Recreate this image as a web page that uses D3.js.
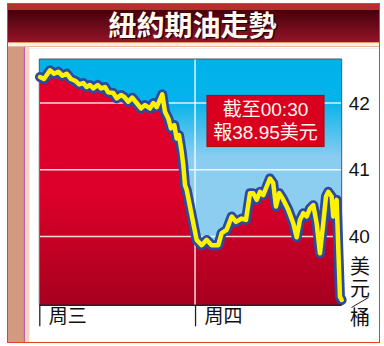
<!DOCTYPE html>
<html>
<head>
<meta charset="utf-8">
<script src="https://cdn.jsdelivr.net/npm/d3@7"></script>
<style>
  body { margin: 0; background: #fff; }
  svg { display: block; }
  text { font-family: "Liberation Sans", "Noto Sans CJK TC", sans-serif; }
</style>
</head>
<body>
<div id="chart"></div>
<script>
// hours since Wednesday start, and NY crude futures price
var hours = [0.1,0.72,1.65,2.27,2.93,3.54,4.22,4.88,5.61,6.16,
  6.78,7.3,7.81,8.32,9.0,9.51,10.12,10.63,11.4,11.93,
  12.59,13.1,13.71,14.33,15.01,15.67,16.29,17.06,17.57,18.09,
  18.95,19.37,19.88,20.29,20.8,21.17,21.53,21.94,22.19,22.45,
  22.71,23.22,23.73,24.25,25.02,25.79,26.56,27.58,28.1,28.87,
  29.65,30.31,31.19,31.85,32.47,32.97,33.5,34.01,34.51,35.04,
  35.55,36.05,36.47,36.98,37.5,38.37,39.14,39.66,40.17,40.68,
  41.2,41.71,42.22,42.74,43.25,43.76,44.18,44.53,45.05,45.3,
  45.82,46.33,46.6];
var prices = [42.39,42.36,42.49,42.44,42.47,42.41,42.44,42.36,42.33,42.28,
  42.30,42.24,42.27,42.22,42.27,42.22,42.24,42.16,42.15,42.07,
  42.12,42.09,42.02,42.08,42.00,41.92,41.97,41.92,42.00,41.94,
  42.13,41.87,41.77,41.62,41.67,41.47,41.52,41.27,41.07,40.77,
  40.70,40.45,40.20,39.95,39.87,39.95,39.87,39.87,40.05,40.10,
  40.30,40.22,40.27,40.25,40.65,40.65,40.55,40.67,40.62,40.75,
  40.87,40.80,40.45,40.65,40.57,40.40,40.20,39.99,40.25,40.35,
  40.30,40.42,40.47,40.20,39.75,40.20,40.60,40.67,40.60,40.30,
  40.55,39.10,39.05];
var dayTicks = [0, 24];
var dayLabels = ["周三", "周四"];
var priceTicks = [40, 41, 42];
var title = "紐約期油走勢";
var noteLines = ["截至00:30", "報38.95美元"];
var unitChars = ["美", "元", "桶"];

var data = hours.map(function(h, i) { return {h: h, p: prices[i]}; });

var W = 384, H = 346;
var plot = {left: 39.3, right: 341.7, top: 59, bottom: 305.3};

var svg = d3.select("#chart").append("svg")
  .attr("width", W)
  .attr("height", H);

var defs = svg.append("defs");

var tg = defs.append("linearGradient").attr("id", "titleGrad")
  .attr("x1", 0).attr("y1", 0).attr("x2", 0).attr("y2", 1);
tg.append("stop").attr("offset", "0%").attr("stop-color", "#45000c");
tg.append("stop").attr("offset", "100%").attr("stop-color", "#941428");

var bg = defs.append("linearGradient").attr("id", "skyGrad")
  .attr("gradientUnits", "userSpaceOnUse")
  .attr("x1", 0).attr("y1", plot.top).attr("x2", 0).attr("y2", plot.bottom);
bg.append("stop").attr("offset", "0%").attr("stop-color", "#00b2ea");
bg.append("stop").attr("offset", "17%").attr("stop-color", "#04b3ea");
bg.append("stop").attr("offset", "40%").attr("stop-color", "#8bcdf0");
bg.append("stop").attr("offset", "100%").attr("stop-color", "#8fcfef");

var rg = defs.append("linearGradient").attr("id", "redGrad")
  .attr("gradientUnits", "userSpaceOnUse")
  .attr("x1", 0).attr("y1", plot.top).attr("x2", 0).attr("y2", plot.bottom);
rg.append("stop").attr("offset", "0%").attr("stop-color", "#e2002b");
rg.append("stop").attr("offset", "55%").attr("stop-color", "#dc002a");
rg.append("stop").attr("offset", "100%").attr("stop-color", "#a6001f");

defs.append("clipPath").attr("id", "plotClip")
  .append("rect")
  .attr("x", plot.left).attr("y", plot.top)
  .attr("width", plot.right - plot.left)
  .attr("height", plot.bottom - plot.top);

// frame
svg.append("rect")
  .attr("x", 7.5).attr("y", 3.5).attr("width", 372).attr("height", 339)
  .attr("fill", "#fff").attr("stroke", "#e2401e").attr("stroke-width", 1);
svg.append("rect")
  .attr("x", 8).attr("y", 4).attr("width", 371).attr("height", 6)
  .attr("fill", "#b3302c");
svg.append("rect")
  .attr("x", 8).attr("y", 10).attr("width", 371).attr("height", 32)
  .attr("fill", "url(#titleGrad)");
svg.append("rect")
  .attr("x", 8).attr("y", 42).attr("width", 371).attr("height", 4)
  .attr("fill", "#fcf0e4");
svg.append("line")
  .attr("x1", 8).attr("x2", 379).attr("y1", 42.5).attr("y2", 42.5)
  .attr("stroke", "#e89a66");
svg.append("line")
  .attr("x1", 8).attr("x2", 379).attr("y1", 46.5).attr("y2", 46.5)
  .attr("stroke", "#e8b8a0");
svg.append("line")
  .attr("x1", 29).attr("x2", 379).attr("y1", 48.5).attr("y2", 48.5)
  .attr("stroke", "#eeeeee");

// left band
svg.append("rect").attr("x", 8).attr("y", 47).attr("width", 15.3).attr("height", 295)
  .attr("fill", "#d39a82");
svg.append("rect").attr("x", 23.3).attr("y", 47).attr("width", 1.7).attr("height", 295)
  .attr("fill", "#c45e9e");
svg.append("rect").attr("x", 25).attr("y", 47).attr("width", 4.3).attr("height", 295)
  .attr("fill", "#f3d3c4");

// title
svg.append("text")
  .attr("x", 194).attr("y", 37)
  .attr("text-anchor", "middle")
  .attr("font-family", "Noto Sans CJK TC")
  .attr("font-size", 28).attr("font-weight", "bold")
  .attr("fill", "#2a0006")
  .text(title);
svg.append("text")
  .attr("x", 192.5).attr("y", 35.5)
  .attr("text-anchor", "middle")
  .attr("font-family", "Noto Sans CJK TC")
  .attr("font-size", 28).attr("font-weight", "bold")
  .attr("fill", "#fffaf0")
  .text(title);

var x = d3.scaleLinear().domain([0, 46.6]).range([plot.left, plot.right]);
var y = d3.scaleLinear().domain([38.97, 42.66]).range([plot.bottom, plot.top]);

// plot background
svg.append("rect")
  .attr("x", plot.left).attr("y", plot.top)
  .attr("width", plot.right - plot.left).attr("height", plot.bottom - plot.top)
  .attr("fill", "url(#skyGrad)");

var area = d3.area()
  .x(function(d) { return x(d.h); })
  .y0(plot.bottom)
  .y1(function(d) { return y(d.p); });

svg.append("path")
  .datum(data)
  .attr("d", area)
  .attr("clip-path", "url(#plotClip)")
  .attr("fill", "url(#redGrad)");

// grid
svg.append("g")
  .selectAll("line")
  .data(priceTicks)
  .enter().append("line")
    .attr("x1", plot.left).attr("x2", plot.right)
    .attr("y1", function(d) { return y(d); })
    .attr("y2", function(d) { return y(d); })
    .attr("stroke", "#fff").attr("stroke-opacity", 0.85)
    .attr("stroke-width", 1.5);
svg.append("line")
  .attr("x1", x(24)).attr("x2", x(24))
  .attr("y1", plot.top).attr("y2", plot.bottom)
  .attr("stroke", "#fff").attr("stroke-opacity", 0.85)
  .attr("stroke-width", 1.5);

// plot border
svg.append("path")
  .attr("d", "M" + plot.left + "," + plot.bottom + "V" + plot.top + "H" + plot.right + "V" + plot.bottom)
  .attr("fill", "none").attr("stroke", "#555").attr("stroke-width", 1);

// price line
var line = d3.line()
  .x(function(d) { return x(d.h); })
  .y(function(d) { return y(d.p); });

svg.append("path")
  .datum(data)
  .attr("d", line)
  .attr("fill", "none")
  .attr("stroke", "#2a4ba2")
  .attr("stroke-width", 10)
  .attr("stroke-linejoin", "round")
  .attr("stroke-linecap", "round");
svg.append("path")
  .datum(data)
  .attr("d", line)
  .attr("fill", "none")
  .attr("stroke", "#fff200")
  .attr("stroke-width", 4.5)
  .attr("stroke-linejoin", "round")
  .attr("stroke-linecap", "round");

// x axis
var xAxis = svg.append("g")
  .attr("transform", "translate(0," + plot.bottom + ")")
  .call(d3.axisBottom(x).tickValues(dayTicks).tickSize(21)
    .tickFormat(function(d, i) { return dayLabels[i]; }));
xAxis.select(".domain").attr("stroke", "#222").attr("stroke-width", 1.5)
  .attr("d", "M" + plot.left + ",0H" + plot.right);
xAxis.selectAll(".tick line").attr("stroke", "#222").attr("stroke-width", 1.3);
xAxis.selectAll(".tick text")
  .attr("font-family", "Noto Sans CJK TC")
  .attr("font-size", 19).attr("fill", "#111")
  .attr("text-anchor", "start")
  .attr("x", 9).attr("y", 3).attr("dy", "0.8em");

// y axis on right
var yAxis = svg.append("g")
  .attr("transform", "translate(" + plot.right + ",0)")
  .call(d3.axisRight(y).tickValues(priceTicks).tickSize(0).tickPadding(7)
    .tickFormat(d3.format("d")));
yAxis.select(".domain").remove();
yAxis.selectAll(".tick text")
  .attr("font-size", 19).attr("fill", "#111");

// unit label
svg.append("text").attr("x", 360).attr("y", 274)
  .attr("text-anchor", "middle").attr("font-family", "Noto Sans CJK TC")
  .attr("font-size", 20).attr("fill", "#111").text(unitChars[0]);
svg.append("text").attr("x", 360).attr("y", 296)
  .attr("text-anchor", "middle").attr("font-family", "Noto Sans CJK TC")
  .attr("font-size", 20).attr("fill", "#111").text(unitChars[1]);
svg.append("line")
  .attr("x1", 351.5).attr("y1", 307.5).attr("x2", 368.5).attr("y2", 297.5)
  .attr("stroke", "#222").attr("stroke-width", 1);
svg.append("text").attr("x", 360).attr("y", 325)
  .attr("text-anchor", "middle").attr("font-family", "Noto Sans CJK TC")
  .attr("font-size", 20).attr("fill", "#111").text(unitChars[2]);

// note box
svg.append("rect")
  .attr("x", 207).attr("y", 95.5).attr("width", 117).attr("height", 51)
  .attr("fill", "#d9001f").attr("stroke", "#a4101c").attr("stroke-width", 1.2);
svg.selectAll(".note")
  .data(noteLines)
  .enter().append("text")
    .attr("class", "note")
    .attr("x", 265.5)
    .attr("y", function(d, i) { return 116 + i * 22.5; })
    .attr("text-anchor", "middle")
    .attr("font-size", 19)
    .attr("fill", "#fff8ec")
    .text(function(d) { return d; });
</script>
</body>
</html>
